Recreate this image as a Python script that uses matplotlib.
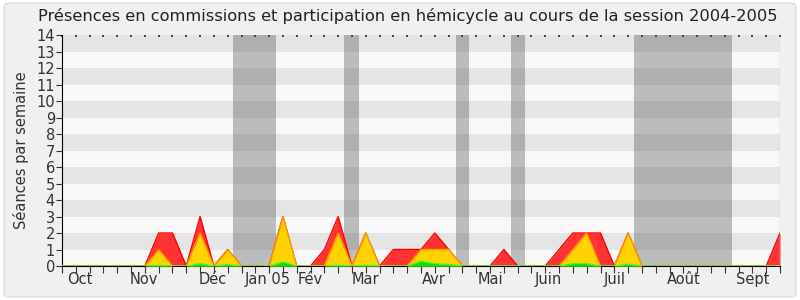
import numpy as np
from matplotlib import pyplot as plt
from matplotlib.patches import FancyBboxPatch

# semaines de la session (0 .. 52)
semaines = np.arange(53)

# presences en commission (rouge)
commission = [0, 0, 0, 0, 0, 0, 0, 2, 2, 0, 3, 0, 1, 0, 0, 0, 3, 0, 0, 1,
              3, 0, 2, 0, 1, 1, 1, 2, 1, 0, 0, 0, 1, 0, 0, 0, 1, 2, 2, 2,
              0, 2, 0, 0, 0, 0, 0, 0, 0, 0, 0, 0, 2]
# participation en hemicycle (jaune)
hemicycle = [0, 0, 0, 0, 0, 0, 0, 1, 0, 0, 2, 0, 1, 0, 0, 0, 3, 0, 0, 0,
             2, 0, 2, 0, 0, 0, 1, 1, 1, 0, 0, 0, 0, 0, 0, 0, 0, 1, 2, 0,
             0, 2, 0, 0, 0, 0, 0, 0, 0, 0, 0, 0, 0]
# interventions (vert)
interventions = [0, 0, 0, 0, 0, 0, 0, 0.05, 0, 0, 0.15, 0, 0.1, 0, 0, 0, 0.25, 0, 0, 0,
                 0.05, 0, 0.05, 0, 0, 0, 0.3, 0.15, 0.1, 0, 0, 0, 0, 0, 0, 0, 0, 0.15, 0.15, 0,
                 0, 0.12, 0, 0, 0, 0, 0, 0, 0, 0, 0, 0, 0]

# vacances parlementaires (debut, fin) en semaines
vacances = [(12.4, 15.5), (20.45, 21.5), (28.5, 29.5), (32.5, 33.5), (41.45, 48.55)]

mois = ['Oct', 'Nov', 'Déc', 'Jan 05', 'Fév', 'Mar', 'Avr', 'Mai', 'Juin', 'Juil', 'Août', 'Sept']
pos_mois = [1.3, 5.9, 10.9, 14.9, 18.0, 22.0, 26.9, 31.0, 35.2, 40.0, 45.0, 50.0]

fig = plt.figure(figsize=(8, 3), dpi=100, facecolor='white')
fig.patches.append(FancyBboxPatch((0.005, 0.01), 0.99, 0.98, boxstyle='round,pad=0,rounding_size=0.01',
                                  transform=fig.transFigure, facecolor='#f0f0f0',
                                  edgecolor='#dddddd', linewidth=1, zorder=-10))
ax = fig.add_axes([0.0775, 0.1133, 0.8975, 0.77])
ax.set_facecolor('#f8f8f8')

# bandes horizontales
for y in range(1, 14, 2):
    ax.axhspan(y, y + 1, color='#e5e5e5', zorder=0, linewidth=0)

# vacances
for debut, fin in vacances:
    ax.axvspan(debut, fin, color='#555555', alpha=0.37, zorder=1, linewidth=0)

ax.fill_between(semaines, commission, color='#ff3333', zorder=2, linewidth=0)
ax.plot(semaines, commission, color='#ff0000', linewidth=1, zorder=2)
ax.fill_between(semaines, hemicycle, color='#ffd200', zorder=3, linewidth=0)
ax.plot(semaines, hemicycle, color='#ff9900', linewidth=1, zorder=3)
ax.fill_between(semaines, interventions, color='#11dd11', zorder=4, linewidth=0)
ax.plot(semaines, interventions, color='#33ff33', linewidth=0.8, zorder=4)

ax.set_xlim(0, 52)
ax.set_ylim(0, 14)
ax.set_yticks(range(15))
ax.set_xticks(semaines)
ax.set_xticklabels([])
ax.tick_params(axis='x', direction='out', length=5, color='#333333')
ax.tick_params(axis='y', direction='out', length=4, color='#333333', labelsize=10.5,
               labelcolor='#333333', pad=1)

# petits reperes en haut
haut = ax.secondary_xaxis('top')
haut.set_xticks(semaines)
haut.set_xticklabels([])
haut.tick_params(direction='in', length=1.5, width=1.2, color='#222222')
haut.spines['top'].set_visible(False)

for xm, m in zip(pos_mois, mois):
    ax.text(xm, -0.35, m, ha='center', va='top', fontsize=10.5, color='#333333')

for s in ['top', 'right']:
    ax.spines[s].set_visible(False)
ax.spines['left'].set_color('#000000')
ax.spines['bottom'].set_color('#000000')
ax.axvline(52, color='#cccccc', linewidth=1, zorder=5)

ax.set_ylabel('Séances par semaine', fontsize=10.5, color='#333333', labelpad=5)
fig.text(0.51, 0.945, 'Présences en commissions et participation en hémicycle au cours de la session 2004-2005',
         ha='center', va='center', fontsize=11.7, color='#222222')

fig.savefig('out.png', dpi=100)
